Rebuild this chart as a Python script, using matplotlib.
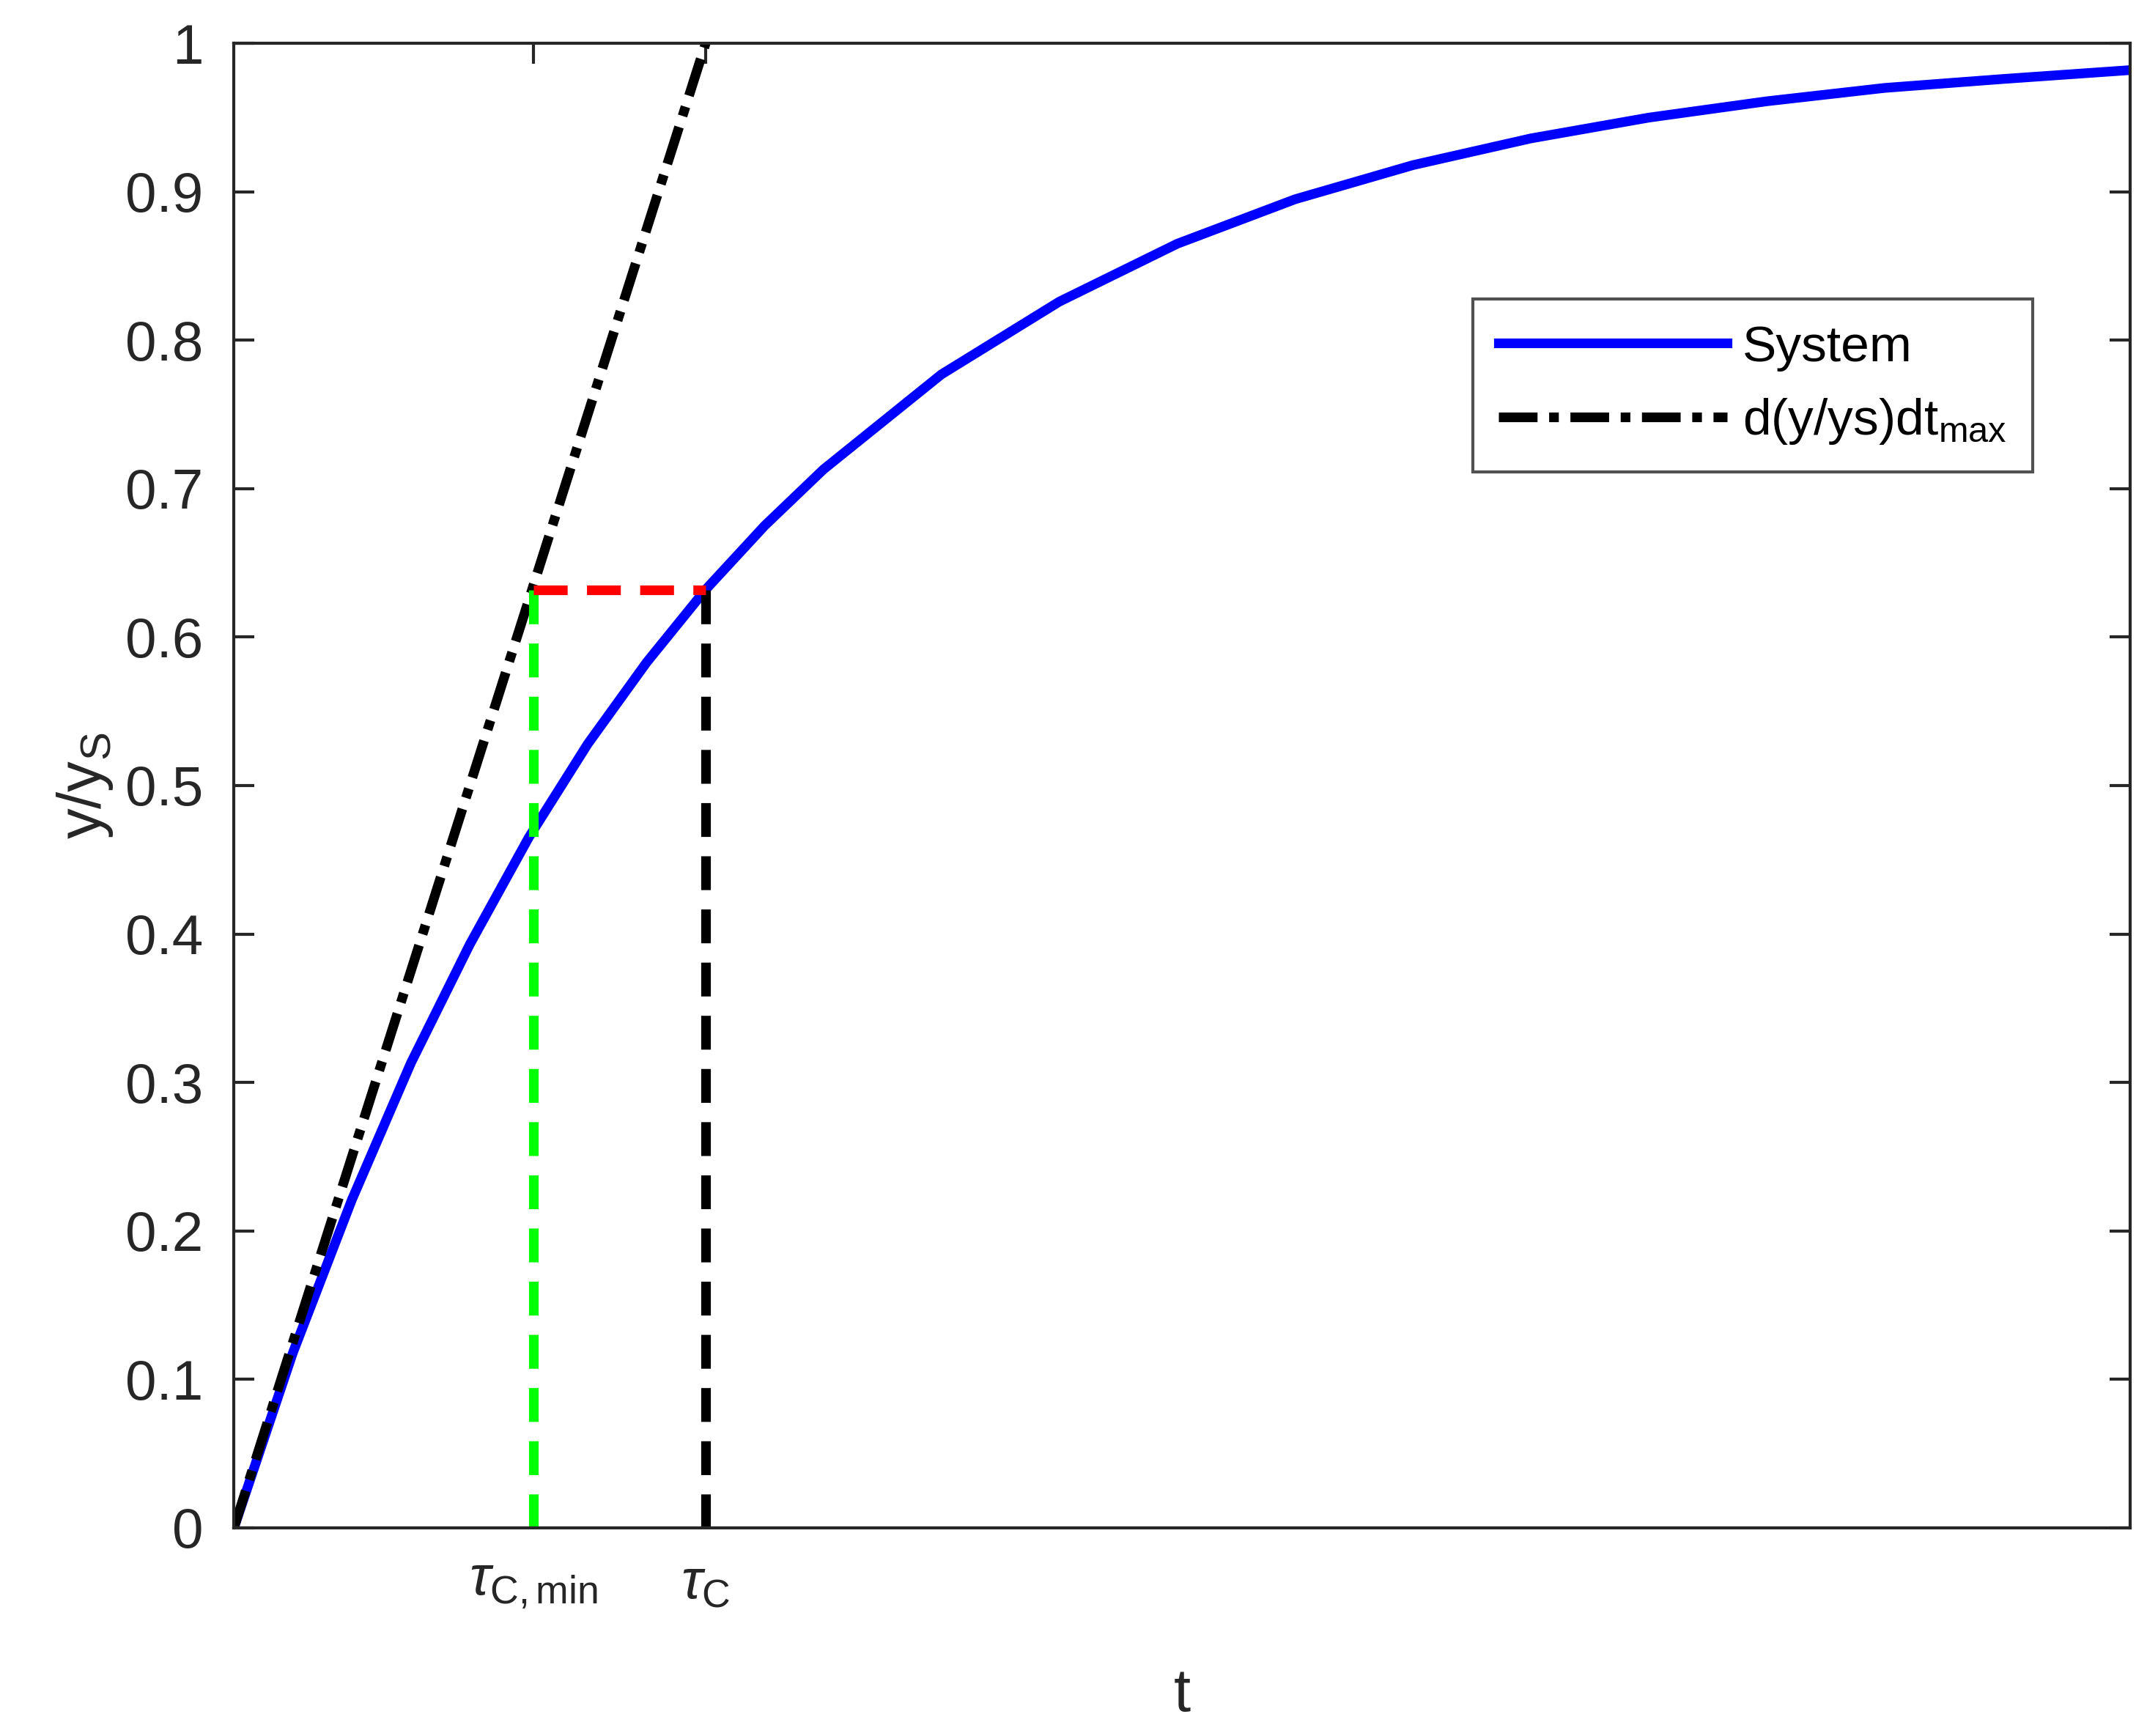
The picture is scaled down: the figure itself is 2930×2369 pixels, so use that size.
import numpy as np
import matplotlib.pyplot as plt

plt.rcParams['font.family'] = ['Liberation Sans', 'DejaVu Sans']
plt.rcParams['mathtext.fontset'] = 'custom'
plt.rcParams['mathtext.rm'] = 'Liberation Sans'
plt.rcParams['mathtext.it'] = 'Liberation Sans:italic'

# System response (t in units of tau_C)
t_sys = [0, 0.125, 0.25, 0.375, 0.5, 0.625, 0.75, 0.875, 1.0, 1.125, 1.25, 1.5, 1.75,
         2.0, 2.25, 2.5, 2.75, 3.0, 3.25, 3.5, 3.75, 4.02]
y_sys = [0, 0.118, 0.221, 0.313, 0.393, 0.465, 0.528, 0.583, 0.632, 0.675, 0.713,
         0.777, 0.826, 0.865, 0.895, 0.918, 0.936, 0.950, 0.961, 0.970, 0.976, 0.982]

# Tangent at t=0
t_tan = [0, 1.0]
y_tan = [0, 1.0]

tau_c = 1.0
tau_c_min = 0.635
y_tau = 0.632

fig = plt.figure(figsize=(11.72, 9.476), dpi=250)
ax = fig.add_axes([0.109, 0.12, 0.883, 0.855])

ax.plot(t_sys, y_sys, color='#0000ff', lw=3.8, label='System')
ax.plot(t_tan, y_tan, color='black', lw=3.8, ls=(0, (4, 1.2, 1, 1.2)),
        label=r'd(y/ys)dt$_{\mathregular{max}}$')
ax.plot([tau_c_min, tau_c_min], [0, y_tau], color='#00ff00', lw=3.8, ls=(0, (3.5, 2)))
ax.plot([tau_c, tau_c], [0, y_tau], color='black', lw=3.8, ls=(0, (3.5, 2)))
ax.plot([tau_c_min, tau_c], [y_tau, y_tau], color='red', lw=3.8, ls=(0, (3.5, 2)))

ax.set_xlim(0, 4.02)
ax.set_ylim(0, 1)
ax.set_yticks(np.arange(0, 1.01, 0.1))
ax.set_yticklabels(['0'] + [f'{v:.1f}' for v in np.arange(0.1, 0.95, 0.1)] + ['1'])
ax.set_xticks([tau_c_min, tau_c])
ax.set_xticklabels([r'$\tau_{\mathregular{C,min}}$', r'$\tau_{\mathregular{C}}$'])
ax.tick_params(direction='in', top=True, right=True, labelsize=22, length=8,
               width=1.2, colors='#262626', pad=12)
for s in ax.spines.values():
    s.set_linewidth(1.2)
    s.set_color('#262626')

ax.set_xlabel('t', fontsize=24, color='#262626', labelpad=22)
ax.set_ylabel(r'y/y$_{\mathregular{S}}$', fontsize=24, color='#262626')

leg = ax.legend(loc='upper right', bbox_to_anchor=(0.962, 0.845), fontsize=20,
                fancybox=False, edgecolor='#262626', handlelength=4.5,
                handletextpad=0.3, borderpad=0.5)
leg.get_frame().set_linewidth(1.2)

fig.savefig('out.png', dpi=250, facecolor='white')
